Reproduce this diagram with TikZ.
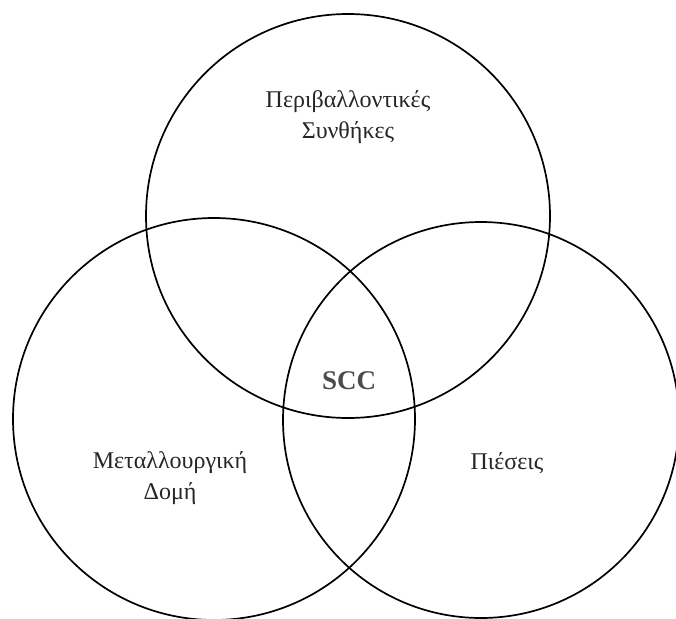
\documentclass[tikz,border=0pt]{standalone}
\usepackage{fontspec}
\setmainfont{Liberation Serif}
\begin{document}
\begin{tikzpicture}[x=1pt,y=-1pt,
  ring/.style={draw=black,line width=1.7pt},
  lbl/.style={font=\fontsize{24}{31}\selectfont,text=black!85,align=center,inner sep=0pt}]
\useasboundingbox (0,0) rectangle (676,618);
% three overlapping sets
\draw[ring] (348,216) circle[radius=202];
\draw[ring] (214,419) circle[radius=201];
\draw[ring] (481,420) circle[radius=198];
% set labels
\node[lbl] (env) at (348,117) {Περιβαλλοντικές\\Συνθήκες};
\node[lbl] (met) at (170,478) {Μεταλλουργική\\Δομή};
\node[lbl] (str) at (507,463) {Πιέσεις};
\node[lbl,font=\fontsize{27}{30}\selectfont\bfseries,text=black!70] (scc) at (349,381) {SCC};
\end{tikzpicture}
\end{document}
